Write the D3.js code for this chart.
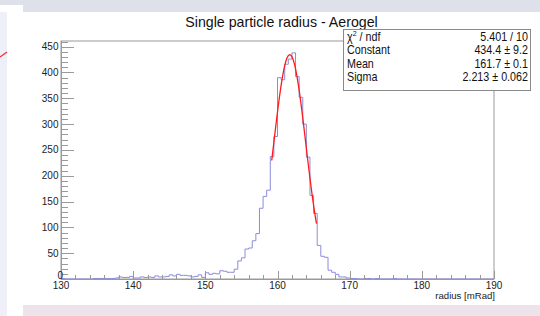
<!DOCTYPE html>
<html>
<head>
<meta charset="utf-8">
<script src="https://cdn.jsdelivr.net/npm/d3@7"></script>
<style>
  body { margin: 0; background: #fff; }
  svg { display: block; font-family: "Liberation Sans", Arial, sans-serif; }
</style>
</head>
<body>
<script>
// histogram: 120 bins of 0.5 mRad from 130 to 190
var xRange = [130, 190];
var binWidth = 0.5;
var counts = [
  1, 0, 0, 0, 0, 0, 0, 0, 0, 1,        // 130 - 135
  1, 1, 1, 1, 1, 2, 4, 3, 3, 5,        // 135 - 140
  2, 2, 4, 3, 4, 3, 6, 4, 4, 5,        // 140 - 145
  8, 6, 9, 7, 7, 6, 4, 5, 8, 3,        // 145 - 150
  12, 9, 11, 10, 16, 15, 13, 13, 19, 35,      // 150 - 155
  41, 58, 60, 74, 88, 137, 160, 172, 237, 276, // 155 - 160
  390, 386, 416, 426, 438, 392, 352, 300, 236, 162, // 160 - 165
  127, 65, 44, 42, 17, 13, 9, 4, 4, 2, // 165 - 170
  1, 1, 0, 0, 1, 1, 0, 1, 0, 0,        // 170 - 175
  0, 0, 1, 0, 0, 0, 0, 0, 0, 0,        // 175 - 180
  0, 0, 0, 0, 0, 0, 0, 0, 0, 0,        // 180 - 185
  0, 0, 0, 0, 0, 0, 0, 0, 0, 0         // 185 - 190
];

// gaussian fit result (from the stats box) and fit range
var fitConstant = 434.4, fitMean = 161.7, fitSigma = 2.213;
var fitRange = [159.2, 165.4];

var yTicks = [0, 50, 100, 150, 200, 250, 300, 350, 400, 450];
var xTicks = [130, 140, 150, 160, 170, 180, 190];

var statLabels = ["Constant", "Mean", "Sigma"];
var statValues = ["5.401 / 10", "434.4 \u00b1 9.2", "161.7 \u00b1 0.1", "2.213 \u00b1 0.062"];

var W = 540, H = 316;
var frame = {left: 61, right: 494, top: 41, bottom: 279};

var svg = d3.select("body").append("svg")
  .attr("width", W).attr("height", H);

// canvas decoration (ROOT window edges)
svg.append("rect").attr("x", 0).attr("y", 0).attr("width", W).attr("height", 12).attr("fill", "#dfe1ea");
svg.append("rect").attr("x", 0).attr("y", 5).attr("width", 23).attr("height", 7).attr("fill", "#fff");
svg.append("rect").attr("x", 0).attr("y", 12).attr("width", 7).attr("height", H - 12).attr("fill", "#efeffa");
svg.append("rect").attr("x", 23).attr("y", 305).attr("width", W - 23).attr("height", 11).attr("fill", "#ece4ea");
svg.append("line").attr("x1", 0).attr("y1", 57).attr("x2", 7).attr("y2", 52)
  .attr("stroke", "#f03030").attr("stroke-width", 1.2);

var x = d3.scaleLinear().domain(xRange).range([frame.left, frame.right]);
var y = d3.scaleLinear().domain([0, 461]).range([frame.bottom, frame.top]);

// frame
svg.append("rect")
  .attr("x", frame.left).attr("y", frame.top)
  .attr("width", frame.right - frame.left).attr("height", frame.bottom - frame.top)
  .attr("fill", "#fff").attr("stroke", "#9a9a9a").attr("stroke-width", 1);

// histogram as steps
var pts = [];
counts.forEach(function(c, i) {
  var lo = xRange[0] + i * binWidth;
  pts.push([lo, c]);
  pts.push([lo + binWidth, c]);
});
var line = d3.line().x(function(d) { return x(d[0]); }).y(function(d) { return y(d[1]); });
svg.append("path")
  .attr("d", line(pts))
  .attr("fill", "none")
  .attr("stroke", "#8c8cdc")
  .attr("stroke-width", 1);

// fit curve
var fitPts = d3.range(fitRange[0], fitRange[1] + 0.001, 0.05).map(function(v) {
  var z = (v - fitMean) / fitSigma;
  return [v, fitConstant * Math.exp(-0.5 * z * z)];
});
svg.append("path")
  .attr("d", line(fitPts))
  .attr("fill", "none")
  .attr("stroke", "#ff1a1a")
  .attr("stroke-width", 1.3);

// axes lines drawn on top so empty bins vanish into them
var axisColor = "#9a9a9a";
svg.append("line").attr("x1", frame.left).attr("x2", frame.right)
  .attr("y1", frame.bottom + 0.5).attr("y2", frame.bottom + 0.5).attr("stroke", axisColor);
svg.append("line").attr("x1", frame.left + 0.5).attr("x2", frame.left + 0.5)
  .attr("y1", frame.top).attr("y2", frame.bottom).attr("stroke", axisColor);

// y ticks: major every 50, minor every 10
d3.range(0, 461, 10).forEach(function(v) {
  var major = v % 50 === 0;
  svg.append("line")
    .attr("x1", frame.left).attr("x2", frame.left + (major ? 13 : 7))
    .attr("y1", Math.round(y(v)) + 0.5).attr("y2", Math.round(y(v)) + 0.5)
    .attr("stroke", axisColor);
});
// x ticks: major every 10, minor every 2
d3.range(130, 190.1, 2).forEach(function(v) {
  var major = v % 10 === 0;
  svg.append("line")
    .attr("x1", Math.round(x(v)) + 0.5).attr("x2", Math.round(x(v)) + 0.5)
    .attr("y1", frame.bottom).attr("y2", frame.bottom - (major ? 8 : 4))
    .attr("stroke", axisColor);
});

// tick labels
svg.selectAll(".ylab").data(yTicks).enter().append("text")
  .attr("class", "ylab")
  .attr("x", function(d) { return d === 0 ? 63 : 58.5; })
  .attr("y", function(d) { return d === 0 ? 279 : y(d) + 3.5; })
  .attr("text-anchor", "end")
  .attr("font-size", 10)
  .attr("fill", "#222")
  .text(function(d) { return d; });

svg.selectAll(".xlab").data(xTicks).enter().append("text")
  .attr("class", "xlab")
  .attr("x", function(d) { return x(d); })
  .attr("y", 288.5)
  .attr("text-anchor", "middle")
  .attr("font-size", 10)
  .attr("fill", "#222")
  .text(function(d) { return d; });

// axis title
svg.append("text")
  .attr("x", frame.right + 1).attr("y", 298.5)
  .attr("text-anchor", "end")
  .attr("font-size", 9.6)
  .attr("fill", "#222")
  .text("radius [mRad]");

// histogram title
svg.append("text")
  .attr("x", 281.5).attr("y", 26.5)
  .attr("text-anchor", "middle")
  .attr("font-size", 14.2)
  .attr("fill", "#111")
  .text("Single particle radius - Aerogel");

// stats box (ROOT text is tall and narrow, so squeeze horizontally)
var box = {left: 343, right: 530, top: 29, bottom: 90};
svg.append("rect")
  .attr("x", box.left + 0.5).attr("y", box.top + 0.5)
  .attr("width", box.right - box.left).attr("height", box.bottom - box.top)
  .attr("fill", "#fff").attr("stroke", "#8a8a8a");

var rowY = [41, 54.5, 68, 81.5];
var squeeze = 0.88;
var labG = svg.append("g")
  .attr("transform", "translate(" + (box.left + 4) + ",0) scale(" + squeeze + ",1)")
  .attr("font-size", 12.2).attr("fill", "#111");
var valG = svg.append("g")
  .attr("transform", "translate(" + (box.right - 2) + ",0) scale(" + squeeze + ",1)")
  .attr("font-size", 12.2).attr("fill", "#111");

var chi = labG.append("text").attr("x", 0).attr("y", rowY[0]);
chi.append("tspan").text("\u03c7");
chi.append("tspan").attr("font-size", 8).attr("dy", -4.5).text("2");
chi.append("tspan").attr("dy", 4.5).text(" / ndf");

statLabels.forEach(function(s, i) {
  labG.append("text").attr("x", 0).attr("y", rowY[i + 1]).text(s);
});
statValues.forEach(function(s, i) {
  valG.append("text").attr("x", 0).attr("y", rowY[i])
    .attr("text-anchor", "end").text(s);
});
</script>
</body>
</html>
